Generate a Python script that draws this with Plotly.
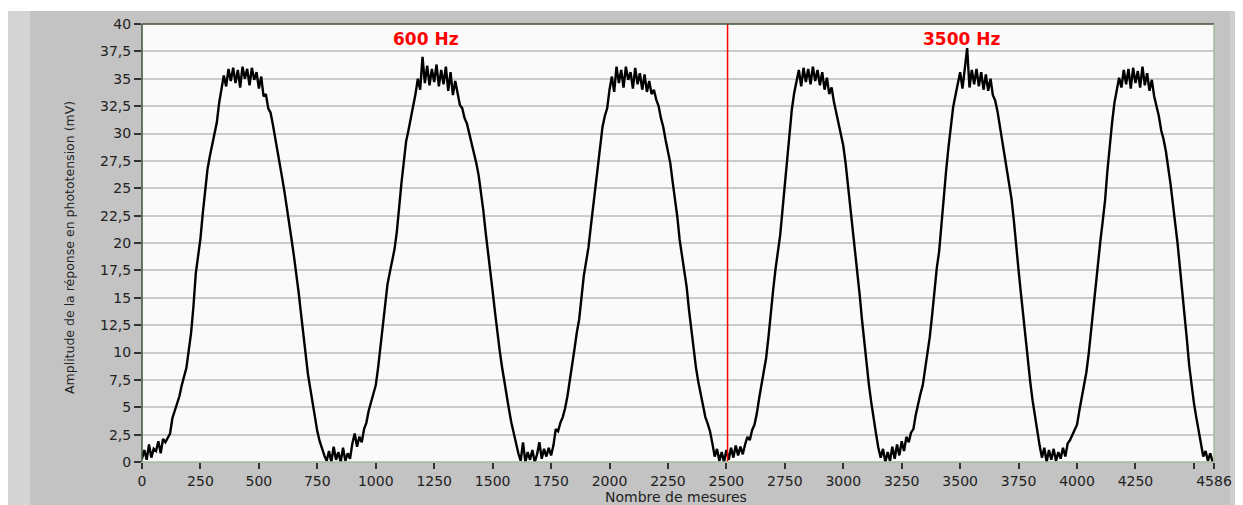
#!/usr/bin/env python3
"""Photovoltage response amplitude against measurement count (600 Hz / 3500 Hz)."""

import numpy as np
import plotly.graph_objects as go

SAMPLE_STEP = 10  # one reading every 10 measurements

amplitude_mv = [
    0.3, 1.1, 0.2, 1.6, 0.4, 1.2, 1.0, 1.9, 0.8, 2.1,
    1.8, 2.2, 2.6, 4.0, 4.6, 5.4, 6.0, 7.0, 7.9, 8.6,
    10.2, 11.8, 14.2, 17.2, 18.8, 20.4, 22.7, 25.0, 26.7, 27.9,
    29.0, 30.0, 31.0, 32.8, 34.0, 35.3, 34.3, 35.9, 34.8, 36.0,
    34.6, 35.8, 34.2, 36.1, 35.0, 35.9, 34.4, 36.0, 34.9, 35.6,
    34.1, 35.2, 33.4, 33.6, 32.3, 31.9, 30.8, 29.6, 28.6, 27.3,
    25.9, 24.6, 23.0, 21.5, 20.3, 18.8, 17.3, 15.5, 13.6, 11.6,
    9.8, 8.0, 6.7, 5.4, 4.0, 2.8, 1.9, 1.2, 0.6, 0.1,
    1.0, 0.0, 1.4, 0.2, 0.9, 0.0, 1.3, 0.1, 0.8, 0.3,
    1.7, 2.6, 1.4, 2.3, 1.8, 3.0, 3.6, 4.7, 5.5, 6.4,
    7.0, 8.6, 10.6, 12.4, 14.6, 16.2, 17.3, 18.3, 19.4, 21.0,
    23.6, 25.5, 27.4, 29.3, 30.3, 31.4, 32.3, 33.6, 35.0, 34.0,
    37.0, 34.6, 36.2, 34.4, 35.9, 34.7, 36.3, 34.3, 35.8, 34.5,
    36.1, 33.9, 35.6, 33.5, 34.8, 33.6, 32.6, 32.3, 31.4, 30.9,
    30.0, 29.2, 28.2, 27.3, 26.2, 24.8, 23.0, 21.0, 19.0, 17.3,
    15.6, 13.7, 11.8, 10.2, 8.7, 7.3, 5.9, 4.8, 3.6, 2.6,
    1.6, 0.8, 0.1, 1.8, 0.0, 0.9, 0.2, 1.1, 0.0, 0.7,
    1.8, 0.3, 1.2, 0.5, 1.3, 0.6, 1.5, 3.0, 2.8, 3.6,
    4.1, 4.9, 6.0, 7.3, 8.8, 10.3, 11.8, 13.0, 15.0, 17.0,
    18.3, 19.6, 21.5, 23.4, 25.5, 27.4, 29.0, 30.6, 31.6, 32.3,
    34.0, 35.2, 33.8, 36.1, 34.6, 35.8, 34.2, 36.1, 34.9, 35.6,
    34.1, 36.0, 34.5, 35.5, 34.0, 35.4, 33.8, 34.8, 33.6, 34.0,
    33.1, 32.5, 31.4, 30.6, 29.4, 28.4, 27.3, 25.6, 24.2, 22.4,
    20.3, 19.0, 17.5, 16.0, 13.9, 12.0, 10.3, 8.6, 7.3, 6.2,
    5.1, 4.1, 3.5, 2.8, 1.7, 0.5, 1.2, 0.1, 0.9, 0.0,
    1.1, 0.2, 1.3, 0.4, 1.5, 0.6, 1.4, 0.7, 1.6, 2.3,
    2.0, 2.9, 3.4, 4.4, 5.8, 7.0, 8.2, 9.5, 11.4, 13.8,
    15.7, 17.6, 19.2, 20.7, 23.0, 25.4, 27.7, 30.2, 32.2, 33.7,
    34.6, 35.8, 34.3, 36.0, 34.7, 35.9, 34.5, 36.1, 34.8, 35.8,
    34.4, 35.6, 34.0, 35.1, 33.6, 34.2, 32.9, 31.9, 31.0, 30.2,
    28.9, 27.3, 25.3, 23.6, 21.7, 19.6, 17.3, 15.3, 13.0, 10.8,
    8.9, 7.0, 5.4, 3.8, 2.6, 1.3, 0.4, 1.2, 0.0, 0.9,
    0.1, 1.4, 0.3, 1.6, 0.6, 1.9, 1.0, 2.3, 1.8, 2.7,
    3.0, 4.3, 5.4, 6.2, 7.0, 8.4, 9.9, 11.4, 13.4, 15.7,
    17.7, 19.2, 21.9, 24.5, 26.6, 28.7, 30.7, 32.4, 33.5, 34.5,
    35.6, 34.1, 36.3, 37.8, 34.2, 35.8, 34.5, 35.9, 34.3, 35.6,
    34.0, 35.4, 33.9, 35.0, 33.5, 33.0, 32.0, 30.7, 29.6, 28.3,
    27.0, 25.6, 24.0, 22.0, 19.5, 17.5, 15.4, 13.3, 11.3, 9.2,
    7.3, 5.6, 4.1, 2.8, 1.5, 0.4, 1.3, 0.0, 1.1, 0.2,
    1.2, 0.1, 0.9, 0.3, 1.3, 0.5, 1.7, 2.0, 2.5, 2.9,
    3.4, 4.7, 5.8, 6.9, 8.2, 9.9, 12.0, 14.0, 16.3, 18.5,
    20.2, 22.0, 23.9, 26.6, 29.0, 31.0, 32.8, 33.8, 35.1, 34.2,
    35.8, 34.5, 35.9, 34.1, 36.0, 34.6, 35.7, 34.2, 36.1, 34.4,
    35.5, 33.9, 34.9, 33.4, 32.5, 31.6, 30.3, 29.5, 28.4, 27.0,
    25.4, 23.6, 21.9, 20.0, 17.8, 15.8, 13.6, 11.2, 8.8, 7.0,
    5.4, 4.1, 2.8, 1.7, 0.5, 1.0, 0.1, 0.8, 0.0,
]

n_measurements = 4586
cursor_at = 2505  # frequency switch

x_tick_vals = [0, 250, 500, 750, 1000, 1250, 1500, 1750, 2000, 2250,
               2500, 2750, 3000, 3250, 3500, 3750, 4000, 4250, 4500, 4586]
x_tick_text = ["0", "250", "500", "750", "1000", "1250", "1500", "1750", "2000", "2250",
               "2500", "2750", "3000", "3250", "3500", "3750", "4000", "4250", "", "4586"]
y_tick_vals = [0, 2.5, 5, 7.5, 10, 12.5, 15, 17.5, 20, 22.5,
               25, 27.5, 30, 32.5, 35, 37.5, 40]
y_tick_text = ["0", "2,5", "5", "7,5", "10", "12,5", "15", "17,5", "20", "22,5",
               "25", "27,5", "30", "32,5", "35", "37,5", "40"]

measurements = np.arange(len(amplitude_mv)) * SAMPLE_STEP

# page is drawn with an 8px body margin; pixel values below are page pixels
PAGE_OFF = 8
W, H = 1243 - PAGE_OFF, 505 - PAGE_OFF
L, R, T, B = 142 - PAGE_OFF, 1214 - PAGE_OFF, 24 - PAGE_OFF, 462 - PAGE_OFF


def px_x(px):
    return (px - PAGE_OFF - L) / (R - L)


def px_y(py):
    return (B - (py - PAGE_OFF)) / (B - T)


fig = go.Figure()
fig.add_trace(
    go.Scatter(
        x=measurements,
        y=amplitude_mv,
        mode="lines",
        line=dict(color="black", width=2.4),
        showlegend=False,
    )
)
fig.add_trace(
    go.Scatter(
        x=[cursor_at, cursor_at],
        y=[0, 40],
        mode="lines",
        line=dict(color="#ff0000", width=1.5),
        showlegend=False,
    )
)

fig.update_layout(
    width=W,
    height=H,
    margin=dict(l=L, r=W - R, t=T, b=H - B),
    paper_bgcolor="#c3c3c3",
    plot_bgcolor="#fafafa",
    font=dict(family="DejaVu Sans", color="#222222"),
    showlegend=False,
)

fig.update_xaxes(
    range=[0, n_measurements],
    tickvals=x_tick_vals,
    ticktext=x_tick_text,
    ticks="outside",
    ticklen=6,
    tickwidth=1.5,
    tickcolor="#333333",
    tickfont=dict(size=14),
    showgrid=False,
    zeroline=False,
    showline=False,
    automargin=False,
)
fig.update_yaxes(
    range=[0, 40],
    tickvals=y_tick_vals,
    ticktext=y_tick_text,
    ticks="outside",
    ticklen=7,
    tickwidth=1.5,
    tickcolor="#333333",
    tickfont=dict(size=14),
    showgrid=True,
    gridcolor="#cbcbcb",
    gridwidth=1.5,
    zeroline=False,
    showline=False,
    automargin=False,
)

# window chrome: white strip on top, lighter bands on the sides
chrome = [
    (PAGE_OFF, 1243, PAGE_OFF, 11, "#ffffff"),
    (PAGE_OFF, 30, 11, 505, "#d4d4d4"),
    (1230, 1243, 11, 505, "#cecece"),
]
for x0, x1, y0, y1, col in chrome:
    fig.add_shape(
        type="rect", xref="paper", yref="paper",
        x0=px_x(x0), x1=px_x(x1), y0=px_y(y1), y1=px_y(y0),
        fillcolor=col, line_width=0, layer="below",
    )

# sunken plot frame: dark top/left, light green bottom/right
for x0, x1, y0, y1, col in [
    (0, 0, 0, 1, "#3e5236"),
    (0, 1, 1, 1, "#3e5236"),
    (1, 1, 0, 1, "#a6be98"),
    (0, 1, 0, 0, "#a6be98"),
]:
    fig.add_shape(
        type="line", xref="paper", yref="paper",
        x0=x0, x1=x1, y0=y0, y1=y1,
        line=dict(color=col, width=1.5), layer="above",
    )

for text, xpos in [("600 Hz", 1217), ("3500 Hz", 3507)]:
    fig.add_annotation(
        x=xpos, y=38.6, text=f"<b>{text}</b>", showarrow=False,
        font=dict(size=17, color="#ff0000"),
    )

fig.add_annotation(
    xref="paper", yref="paper", x=px_x(676), y=px_y(488),
    xanchor="center", yanchor="top", borderpad=0,
    text="Nombre de mesures", showarrow=False, font=dict(size=14),
)
fig.add_annotation(
    xref="paper", yref="paper", x=px_x(69), y=px_y(248),
    xanchor="center", yanchor="middle",
    text="Amplitude de la réponse en phototension (mV)", textangle=-90,
    showarrow=False, font=dict(size=12.5),
)

fig.write_html("out.html")
